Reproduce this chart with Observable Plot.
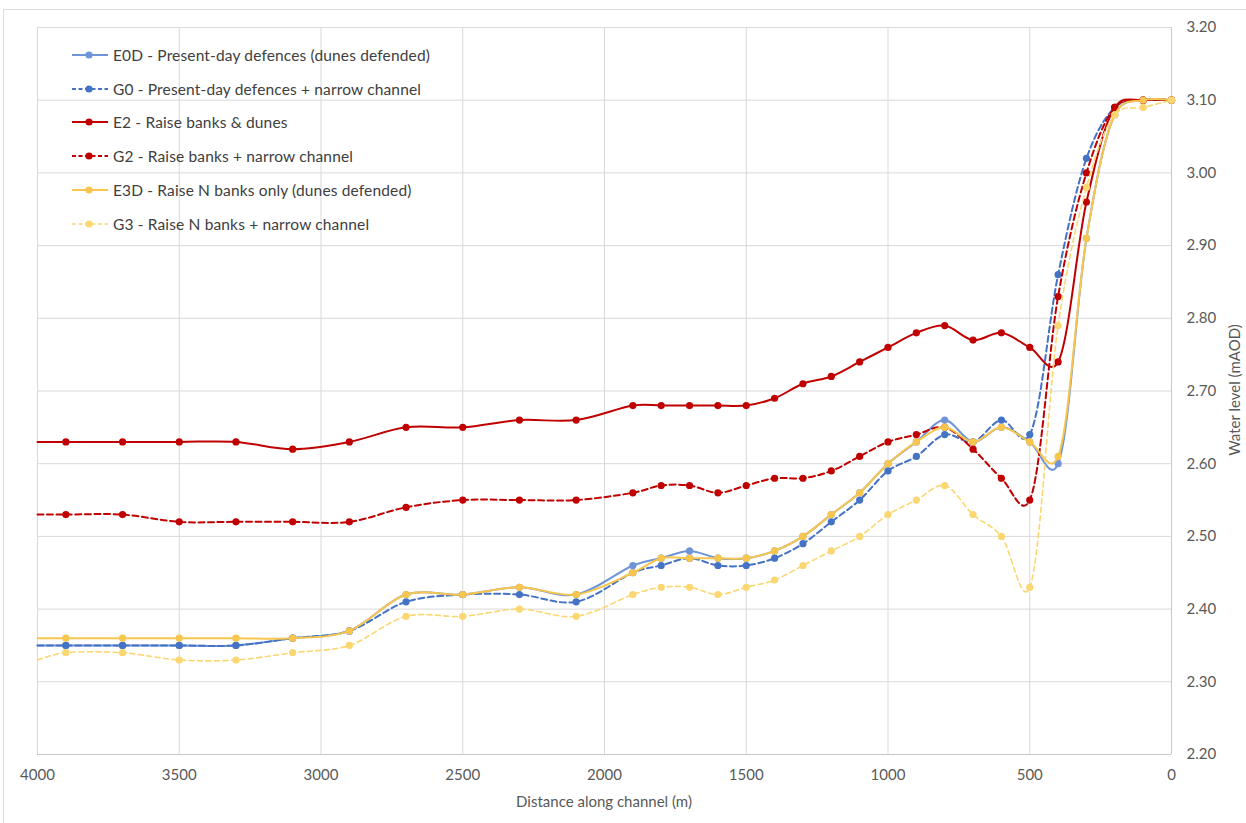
<!DOCTYPE html>
<html>
<head>
<meta charset="utf-8">
<script src="https://cdn.jsdelivr.net/npm/d3@7"></script>
<script src="https://cdn.jsdelivr.net/npm/@observablehq/plot@0.6"></script>
<style>
  html, body { margin: 0; padding: 0; background: #ffffff; }
  #wrap { position: relative; width: 1246px; height: 823px; overflow: hidden; font-family: Lato, "Open Sans", sans-serif; }
  #frame { position: absolute; left: 3px; top: 9px; width: 1260px; height: 830px; border-top: 1px solid #dcdcdc; border-left: 1px solid #dcdcdc; }
  #chart { position: absolute; left: 0; top: 0; }
  #legend { position: absolute; left: 71px; top: 38px; }
  .lrow { display: flex; align-items: center; height: 33.8px; font-size: 15.5px; letter-spacing: 0.15px; color: #404040; white-space: nowrap; }
  .lrow svg { margin-right: 4px; }
  #xtitle { position: absolute; left: 0; width: 1208px; top: 792px; text-align: center; font-size: 15px; color: #595959; }
  #ytitle { position: absolute; left: 1234px; top: 390px; transform: translate(-50%, -50%) rotate(-90deg); font-size: 15px; color: #595959; white-space: nowrap; }
</style>
</head>
<body>
<div id="wrap">
  <div id="frame"></div>
  <div id="chart"></div>
  <div id="legend"></div>
  <div id="xtitle">Distance along channel (m)</div>
  <div id="ytitle">Water level (mAOD)</div>
</div>
<script>
// ---- data ----
const distance = [4000, 3900, 3700, 3500, 3300, 3100, 2900, 2700, 2500, 2300, 2100, 1900, 1800, 1700, 1600, 1500, 1400, 1300, 1200, 1100, 1000, 900, 800, 700, 600, 500, 400, 300, 200, 100, 0];

const E0D = [2.35, 2.35, 2.35, 2.35, 2.35, 2.36, 2.37, 2.42, 2.42, 2.43, 2.42, 2.46, 2.47, 2.48, 2.47, 2.47, 2.48, 2.50, 2.53, 2.56, 2.60, 2.63, 2.66, 2.63, 2.65, 2.63, 2.60, 2.91, 3.08, 3.10, 3.10];
const G0  = [2.35, 2.35, 2.35, 2.35, 2.35, 2.36, 2.37, 2.41, 2.42, 2.42, 2.41, 2.45, 2.46, 2.47, 2.46, 2.46, 2.47, 2.49, 2.52, 2.55, 2.59, 2.61, 2.64, 2.63, 2.66, 2.64, 2.86, 3.02, 3.09, 3.10, 3.10];
const E2  = [2.63, 2.63, 2.63, 2.63, 2.63, 2.62, 2.63, 2.65, 2.65, 2.66, 2.66, 2.68, 2.68, 2.68, 2.68, 2.68, 2.69, 2.71, 2.72, 2.74, 2.76, 2.78, 2.79, 2.77, 2.78, 2.76, 2.74, 2.96, 3.09, 3.10, 3.10];
const G2  = [2.53, 2.53, 2.53, 2.52, 2.52, 2.52, 2.52, 2.54, 2.55, 2.55, 2.55, 2.56, 2.57, 2.57, 2.56, 2.57, 2.58, 2.58, 2.59, 2.61, 2.63, 2.64, 2.65, 2.62, 2.58, 2.55, 2.83, 3.00, 3.09, 3.10, 3.10];
const E3D = [2.36, 2.36, 2.36, 2.36, 2.36, 2.36, 2.37, 2.42, 2.42, 2.43, 2.42, 2.45, 2.47, 2.47, 2.47, 2.47, 2.48, 2.50, 2.53, 2.56, 2.60, 2.63, 2.65, 2.63, 2.65, 2.63, 2.61, 2.91, 3.08, 3.10, 3.10];
const G3  = [2.33, 2.34, 2.34, 2.33, 2.33, 2.34, 2.35, 2.39, 2.39, 2.40, 2.39, 2.42, 2.43, 2.43, 2.42, 2.43, 2.44, 2.46, 2.48, 2.50, 2.53, 2.55, 2.57, 2.53, 2.50, 2.43, 2.79, 2.98, 3.08, 3.09, 3.10];

const seriesNames = [
  "E0D - Present-day defences (dunes defended)",
  "G0 - Present-day defences + narrow channel",
  "E2 - Raise banks & dunes",
  "G2 - Raise banks + narrow channel",
  "E3D - Raise N banks only (dunes defended)",
  "G3 - Raise N banks + narrow channel"
];
const seriesValues = [E0D, G0, E2, G2, E3D, G3];

const xTicks = [4000, 3500, 3000, 2500, 2000, 1500, 1000, 500, 0];
const yTicks = [2.2, 2.3, 2.4, 2.5, 2.6, 2.7, 2.8, 2.9, 3.0, 3.1, 3.2];

// ---- styles ----
const styles = [
  {color: "#6f95d8", dash: null,    width: 2,   dot: "#6f95d8"},
  {color: "#4472c4", dash: "6,3.5", width: 2,   dot: "#4472c4"},
  {color: "#c00000", dash: null,    width: 2,   dot: "#c00000"},
  {color: "#c00000", dash: "6,3.5", width: 2,   dot: "#c00000"},
  {color: "#f8c64c", dash: null,    width: 2,   dot: "#f8c64c"},
  {color: "#fbd772", dash: "5,3.5", width: 1.6, dot: "#fbd772"}
];

const rows = [];
seriesNames.forEach((name, i) => {
  distance.forEach((d, j) => rows.push({series: name, idx: i, d, v: seriesValues[i][j]}));
});

const marks = [
  Plot.gridX(xTicks, {stroke: "#d9d9d9", strokeOpacity: 1}),
  Plot.gridY(yTicks, {stroke: "#d9d9d9", strokeOpacity: 1}),
  Plot.ruleY([2.2], {stroke: "#c8c8c8"}),
  Plot.ruleX([0], {stroke: "#c8c8c8"}),
  Plot.axisX(xTicks, {tickSize: 0, tickPadding: 15, label: null, tickFormat: d => String(d), fontSize: 15}),
  Plot.axisY(yTicks, {anchor: "right", tickSize: 0, tickPadding: 15, label: null, tickFormat: d3.format(".2f"), textAnchor: "start", fontSize: 15})
];
seriesNames.forEach((name, i) => {
  const s = styles[i];
  const data = rows.filter(r => r.idx === i);
  marks.push(Plot.line(data, {x: "d", y: "v", stroke: s.color, strokeWidth: s.width, strokeDasharray: s.dash, curve: "catmull-rom", tension: 0.15}));
  marks.push(Plot.dot(data.filter(r => r.d < 4000), {x: "d", y: "v", r: 3.6, fill: s.dot, stroke: "none"}));
});

const chart = Plot.plot({
  width: 1246,
  height: 823,
  marginLeft: 37,
  marginRight: 75,
  marginTop: 27,
  marginBottom: 69,
  style: {fontFamily: "Lato, 'Open Sans', sans-serif", fontSize: "15px", color: "#595959", background: "transparent", overflow: "visible"},
  x: {domain: [4000, 0]},
  y: {domain: [2.2, 3.2]},
  marks
});
document.getElementById("chart").appendChild(chart);

// ---- legend ----
const legend = document.getElementById("legend");
seriesNames.forEach((name, i) => {
  const s = styles[i];
  const row = document.createElement("div");
  row.className = "lrow";
  const dashAttr = s.dash ? ` stroke-dasharray="4,2.5"` : "";
  row.innerHTML = `<svg width="38" height="12"><line x1="1" y1="6" x2="37" y2="6" stroke="${s.color}" stroke-width="${s.width}"${dashAttr}></line><circle cx="18" cy="6" r="3.6" fill="${s.dot}"></circle></svg><span>${name.replace(/&/g, "&amp;")}</span>`;
  legend.appendChild(row);
});
</script>
</body>
</html>
